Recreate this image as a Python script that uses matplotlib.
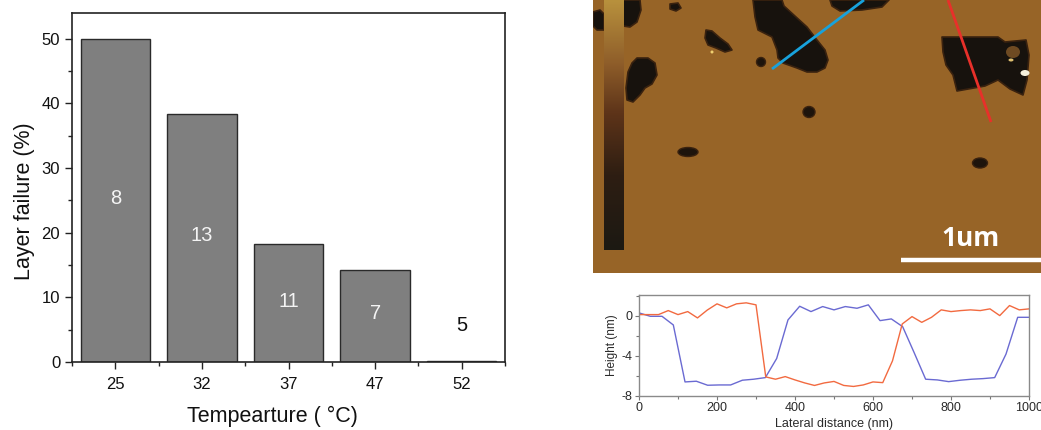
import numpy as np
import matplotlib
matplotlib.use("Agg")
import matplotlib.pyplot as plt
from matplotlib.patches import Polygon, Ellipse
from matplotlib.colors import LinearSegmentedColormap
from matplotlib.ticker import MultipleLocator

plt.rcParams['font.family'] = ['Liberation Sans', 'DejaVu Sans']
plt.rcParams['axes.unicode_minus'] = False

# ---------------- data: bar chart ----------------
temperatures = ["25", "32", "37", "47", "52"]
layer_failure = [50.0, 38.4, 18.2, 14.3, 0.2]
sample_counts = [8, 13, 11, 7, 5]

# ---------------- data: height profiles ----------------
blue_x = [0, 29, 59, 88, 118, 147, 176, 206, 235, 265, 294, 324, 353, 382, 412,
          441, 471, 500, 529, 559, 588, 618, 647, 676, 706, 735, 765, 794, 824,
          853, 882, 912, 941, 971, 1000]
blue_h = [0.27, -0.07, -0.07, -0.93, -6.6, -6.53, -6.93, -6.9, -6.9, -6.43, -6.33,
          -6.17, -4.27, -0.43, 0.93, 0.4, 0.9, 0.57, 0.9, 0.73, 1.07, -0.5, -0.33,
          -1.1, -3.73, -6.33, -6.4, -6.57, -6.43, -6.33, -6.27, -6.17, -3.83,
          -0.17, -0.17]
red_x = [0, 25, 50, 75, 100, 125, 150, 175, 200, 225, 250, 275, 300, 325, 350,
         375, 400, 425, 450, 475, 500, 525, 550, 575, 600, 625, 650, 675, 700,
         725, 750, 775, 800, 825, 850, 875, 900, 925, 950, 975, 1000]
red_h = [0.1, 0.1, 0.1, 0.5, 0.1, 0.4, -0.23, 0.55, 1.17, 0.77, 1.17, 1.27, 1.07,
         -6.1, -6.33, -6.07, -6.4, -6.7, -6.95, -6.7, -6.55, -6.95, -7.05, -6.9,
         -6.6, -6.67, -4.5, -0.83, -0.1, -0.67, -0.17, 0.57, 0.4, 0.5, 0.57, 0.5,
         0.67, 0.0, 1.0, 0.57, 0.67]

# ---------------- AFM image sketch (pixel coordinates of the image panel) ----------------
hole_polygons = [
    [(593, 12), (600, 10), (604, 14), (604, 30), (597, 30), (593, 26)],
    [(622, 0), (640, 0), (641, 10), (637, 22), (630, 27), (623, 26)],
    [(637, 58), (648, 58), (655, 63), (657, 75), (652, 84), (645, 88), (640, 95),
     (633, 102), (627, 100), (626, 88), (628, 72), (632, 63)],
    [(706, 30), (712, 31), (720, 38), (728, 44), (732, 50), (725, 52), (716, 48),
     (708, 45), (705, 38)],
    [(670, 4), (678, 3), (681, 8), (676, 11), (670, 9)],
    [(753, 0), (782, 0), (784, 6), (796, 17), (807, 27), (817, 40), (825, 50),
     (828, 60), (825, 68), (817, 72), (807, 72), (797, 68), (783, 63), (778, 58),
     (777, 50), (772, 37), (758, 30), (755, 17)],
    [(830, 0), (889, 0), (882, 7), (862, 10), (840, 11), (832, 6)],
    [(942, 37), (998, 37), (1005, 42), (1026, 40), (1029, 55), (1027, 80),
     (1023, 95), (1010, 89), (998, 80), (985, 86), (957, 91), (953, 75),
     (946, 65), (943, 52)],
]
hole_ellipses = [((688, 152), 20, 9), ((980, 163), 15, 10), ((809, 112), 12, 11),
                 ((761, 62), 9, 9)]
blue_cut = [(772, 69), (864, 0)]
red_cut = [(948, 0), (991, 122)]

W, H = 1041, 430
fig = plt.figure(figsize=(W / 100, H / 100), dpi=100)

# ================= bar chart =================
ax = fig.add_axes([72 / W, 1 - 362 / H, 433 / W, 349 / H])
xpos = np.arange(len(temperatures))
ax.bar(xpos, layer_failure, width=0.8, color='#7f7f7f', edgecolor='#2a2a2a',
       linewidth=1.0, zorder=2)
for xi, h, n in zip(xpos, layer_failure, sample_counts):
    if h > 3:
        ax.text(xi, h / 2 + 0.3, str(n), ha='center', va='center', color='#f4f4f4',
                fontsize=14.5, zorder=3)
    else:
        ax.text(xi, h + 5.5, str(n), ha='center', va='center', color='#111111',
                fontsize=14.5, zorder=3)
ax.set_xlim(-0.5, len(temperatures) - 0.5)
ax.set_ylim(0, 54)
ax.set_xticks(xpos)
ax.set_xticklabels(temperatures)
ax.xaxis.set_minor_locator(MultipleLocator(1, offset=0.5))
ax.yaxis.set_major_locator(MultipleLocator(10))
ax.yaxis.set_minor_locator(MultipleLocator(5))
ax.tick_params(which='major', direction='out', length=5, width=1.0, labelsize=12,
               color='#222222', labelcolor='#111111')
ax.tick_params(which='minor', direction='out', length=3, width=1.0, color='#222222')
ax.tick_params(axis='x', which='major', pad=6)
for s in ax.spines.values():
    s.set_linewidth(1.2)
    s.set_color('#222222')
ax.set_ylabel('Layer failure (%)', fontsize=15.5, color='#111111')
ax.set_xlabel('Tempearture ( \u00b0C)', fontsize=15.5, color='#111111')
ax.yaxis.set_label_coords(-0.085, 0.46)
ax.xaxis.set_label_coords(0.463, -0.125)

# ================= AFM image sketch =================
axi = fig.add_axes([593 / W, 1 - 273 / H, 448 / W, 273 / H])
axi.set_facecolor('#976427')
for s in axi.spines.values():
    s.set_visible(False)
axi.set_xticks([])
axi.set_yticks([])
for poly in hole_polygons:
    axi.add_patch(Polygon(poly, closed=True, facecolor='#17120d',
                          edgecolor='#3a220f', linewidth=1.2, joinstyle='round',
                          zorder=2))
for (c, w_, h_) in hole_ellipses:
    axi.add_patch(Ellipse(c, w_, h_, facecolor='#1d140c', edgecolor='#3a220f',
                          linewidth=1.0, zorder=2))
axi.add_patch(Ellipse((1013, 52), 14, 12, facecolor='#6e4a22', edgecolor='none', zorder=3))
axi.add_patch(Ellipse((1025, 73), 9, 6, facecolor='#f6f0dc', edgecolor='none', zorder=4))
axi.add_patch(Ellipse((1011, 60), 5, 3, facecolor='#e0c070', edgecolor='none', zorder=4))
axi.add_patch(Ellipse((712, 52), 3, 3, facecolor='#f0d070', edgecolor='none', zorder=4))
# colour bar of the AFM image
afm_cmap = LinearSegmentedColormap.from_list(
    'afm', [(0.0, '#b8913d'), (0.25, '#8f5e2a'), (0.45, '#5e3419'),
            (0.7, '#2e1e12'), (1.0, '#1c1913')])
grad = np.linspace(0, 1, 256).reshape(-1, 1)
axi.imshow(grad, cmap=afm_cmap, extent=(603.5, 623, 250, 0), aspect='auto', zorder=5)
axi.set_xlim(593, 1041)
axi.set_ylim(273, 0)
axi.plot([p[0] for p in blue_cut], [p[1] for p in blue_cut], color='#18a2dc',
         linewidth=2.0, zorder=6, solid_capstyle='butt')
axi.plot([p[0] for p in red_cut], [p[1] for p in red_cut], color='#e8302a',
         linewidth=2.0, zorder=6, solid_capstyle='butt')
axi.plot([901, 1041], [260, 260], color='white', linewidth=3.2, zorder=6,
         solid_capstyle='butt')
axi.text(971, 238, '1um', color='white', fontsize=19, fontweight='bold',
         family=['Open Sans', 'DejaVu Sans'], ha='center', va='center', zorder=6)

# ================= height profile =================
axp = fig.add_axes([639 / W, 1 - 396 / H, 390 / W, 101 / H])
axp.plot(blue_x, blue_h, color='#6a6ad2', linewidth=1.0)
axp.plot(red_x, red_h, color='#f26a40', linewidth=1.0)
axp.set_xlim(0, 1000)
axp.set_ylim(-8, 2.05)
axp.xaxis.set_major_locator(MultipleLocator(200))
axp.xaxis.set_minor_locator(MultipleLocator(100))
axp.set_yticks([0, -4, -8])
axp.yaxis.set_minor_locator(MultipleLocator(2))
axp.tick_params(which='major', direction='out', length=3, width=0.8,
                color='#777777', labelsize=9, labelcolor='#2a2a2a', pad=1.5)
axp.tick_params(which='minor', direction='out', length=2, width=0.8, color='#777777')
for s in axp.spines.values():
    s.set_linewidth(1.0)
    s.set_color('#8a8a8a')
axp.set_ylabel('Height (nm)', fontsize=8.5, color='#2a2a2a', labelpad=3)
axp.set_xlabel('Lateral distance (nm)', fontsize=9, color='#2a2a2a', labelpad=3)

fig.savefig('out.png', dpi=100)
